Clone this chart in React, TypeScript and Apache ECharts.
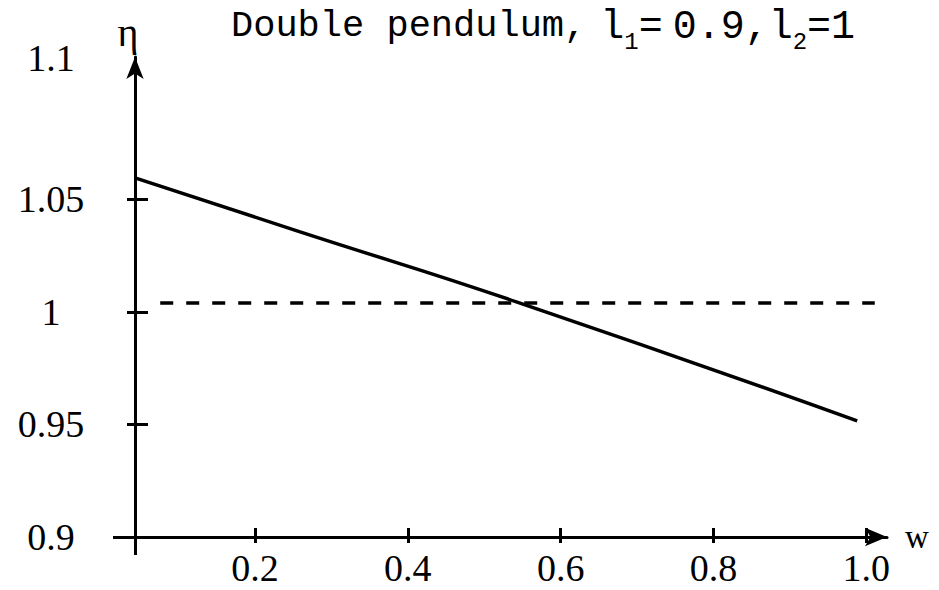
import React, { useEffect, useRef } from "react";
import * as echarts from "echarts";

// Curve η(w)
const curveW = [0.043, 0.259, 0.543, 0.988];
const curveEta = [1.0596, 1.0356, 1.0044, 0.9516];
// Reference dashed line
const refW = [0.076, 1.011];
const refEta = [1.004, 1.004];

const xTicks = [0.2, 0.4, 0.6, 0.8, 1.0];
const xTickLabels = ["0.2", "0.4", "0.6", "0.8", "1.0"];
const yTicks = [0.9, 0.95, 1, 1.05, 1.1];
const yTickLabels = ["0.9", "0.95", "1", "1.05", "1.1"];
const yTickMarks = [0.95, 1, 1.05];

const X_MIN = 0.043;
const X_MAX = 1.027;
const Y_MIN = 0.9;
const Y_MAX = 1.1133;

export default function App() {
  const ref = useRef<HTMLDivElement>(null);
  useEffect(() => {
    if (!ref.current) return;
    const chart = echarts.init(ref.current, null, { renderer: "svg" });
    const black = "#000";
    const serif = "Liberation Serif";
    const mono = "Liberation Mono";
    const xLabelFmt = (v: number) => {
      const i = xTicks.findIndex((t) => Math.abs(t - v) < 1e-9);
      return i >= 0 ? xTickLabels[i] : "";
    };
    const yLabelFmt = (v: number) => {
      const i = yTicks.findIndex((t) => Math.abs(t - v) < 1e-9);
      if (i < 0) return "";
      return i === yTicks.length - 1 ? "{up|" + yTickLabels[i] + "}" : yTickLabels[i];
    };
    const baseX = { type: "value", min: X_MIN, max: X_MAX, gridIndex: 0, position: "bottom", splitLine: { show: false } };
    const baseY = { type: "value", min: Y_MIN, max: Y_MAX, gridIndex: 0, position: "left", splitLine: { show: false } };
    const mainTok = { fontFamily: mono, fontWeight: "normal", fontSize: 40, color: black, lineHeight: 44, verticalAlign: "top" };
    chart.setOption({
      animation: false,
      backgroundColor: "#fff",
      title: {
        text: "{a|Double pendulum,}{l|l}{s|1}{e|=}{m|0.9,l}{s|2}{m|=1}",
        left: 226,
        top: 2,
        textStyle: {
          fontWeight: "normal",
          rich: {
            a: { ...mainTok, fontSize: 37 },
            l: { ...mainTok, padding: [0, 0, 0, 14] },
            e: { ...mainTok, padding: [0, 10, 0, 0] },
            m: { ...mainTok },
            s: { fontFamily: mono, fontWeight: "normal", fontSize: 24, color: black, lineHeight: 24, verticalAlign: "top", padding: [23, 0, 0, 0] },
          },
        },
      },
      grid: { left: 135, right: 52, top: 57, bottom: 53, containLabel: false, outerBoundsMode: "none" },
      xAxis: [
        {
          ...baseX,
          name: "w",
          nameLocation: "end",
          nameGap: 18,
          nameTextStyle: { fontFamily: serif, fontSize: 33, color: black, padding: [6, 0, 0, 0] },
          axisLine: { show: true, symbol: ["none", "arrow"], symbolSize: [14, 22], lineStyle: { color: black, width: 3 } },
          axisTick: { show: true, inside: false, length: 6, customValues: xTicks, lineStyle: { color: black, width: 3 } },
          axisLabel: { show: true, customValues: xTicks, formatter: xLabelFmt, margin: 12, fontFamily: serif, fontSize: 38, color: black },
        },
        {
          ...baseX,
          axisLine: { show: false },
          axisTick: { show: true, inside: true, length: 9, customValues: xTicks, lineStyle: { color: black, width: 3 } },
          axisLabel: { show: false },
        },
        {
          ...baseX,
          axisLine: { show: false },
          axisTick: { show: true, inside: false, length: 18, customValues: [X_MIN], lineStyle: { color: black, width: 3 } },
          axisLabel: { show: false },
        },
      ],
      yAxis: [
        {
          ...baseY,
          name: "η",
          nameLocation: "end",
          nameGap: 5,
          nameTextStyle: { fontFamily: serif, fontSize: 40, color: black, padding: [0, 14, 0, 0] },
          axisLine: { show: true, symbol: ["none", "arrow"], symbolSize: [13, 22], lineStyle: { color: black, width: 3 } },
          axisTick: { show: true, inside: false, length: 8, customValues: yTickMarks, lineStyle: { color: black, width: 3 } },
          axisLabel: {
            show: true,
            customValues: yTicks,
            formatter: yLabelFmt,
            margin: 84,
            align: "center",
            fontFamily: serif,
            fontSize: 38,
            color: black,
            rich: { up: { fontFamily: serif, fontSize: 38, color: black, padding: [0, 0, 58, 0] } },
          },
        },
        {
          ...baseY,
          axisLine: { show: false },
          axisTick: { show: true, inside: true, length: 13, customValues: yTickMarks, lineStyle: { color: black, width: 3 } },
          axisLabel: { show: false },
        },
        {
          ...baseY,
          axisLine: { show: false },
          axisTick: { show: true, inside: false, length: 22, customValues: [Y_MIN], lineStyle: { color: black, width: 3 } },
          axisLabel: { show: false },
        },
      ],
      series: [
        {
          type: "line",
          xAxisIndex: 0,
          yAxisIndex: 0,
          data: curveW.map((w, i) => [w, curveEta[i]]),
          showSymbol: false,
          smooth: true,
          lineStyle: { color: black, width: 3.5 },
          clip: false,
        },
        {
          type: "line",
          xAxisIndex: 0,
          yAxisIndex: 0,
          data: refW.map((w, i) => [w, refEta[i]]),
          showSymbol: false,
          lineStyle: { color: black, width: 3.5, type: [13, 13] },
          clip: false,
        },
      ],
    });
    return () => chart.dispose();
  }, []);
  return <div ref={ref} style={{ position: "fixed", left: 0, top: 0, width: 939, height: 590 }} />;
}
